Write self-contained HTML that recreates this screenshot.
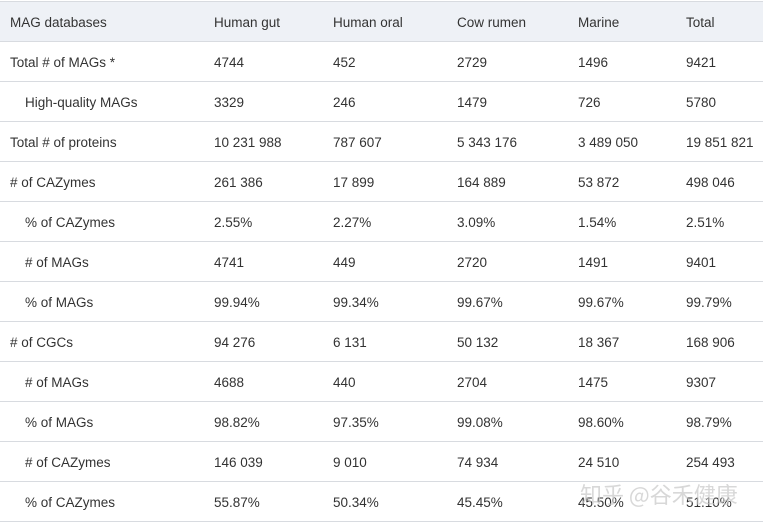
<!DOCTYPE html>
<html><head><meta charset="utf-8"><style>
body{margin:0;width:763px;height:525px;background:#fff;overflow:hidden;font-family:"Liberation Sans","Noto Sans CJK SC",sans-serif;font-size:13.5px;color:#333;position:relative}
.r{position:absolute;left:0;width:763px;height:39px;border-bottom:1px solid #d8dbe0}
.r span{position:absolute;top:13px;white-space:nowrap}
.h{background:#eef1f6;border-top:1px solid #d8dbe0}
.wm{position:absolute;left:580px;top:478px;font-size:22px;color:rgba(200,200,200,.7);font-family:"Noto Sans CJK SC",sans-serif}
</style></head><body>
<div class="r h" style="top:1px"><span style="left:10px">MAG databases</span><span style="left:214px">Human gut</span><span style="left:333px">Human oral</span><span style="left:457px">Cow rumen</span><span style="left:578px">Marine</span><span style="left:686px">Total</span></div>
<div class="r" style="top:42px"><span style="left:10px">Total # of MAGs *</span><span style="left:214px">4744</span><span style="left:333px">452</span><span style="left:457px">2729</span><span style="left:578px">1496</span><span style="left:686px">9421</span></div>
<div class="r" style="top:82px"><span style="left:25px">High-quality MAGs</span><span style="left:214px">3329</span><span style="left:333px">246</span><span style="left:457px">1479</span><span style="left:578px">726</span><span style="left:686px">5780</span></div>
<div class="r" style="top:122px"><span style="left:10px">Total # of proteins</span><span style="left:214px">10 231 988</span><span style="left:333px">787 607</span><span style="left:457px">5 343 176</span><span style="left:578px">3 489 050</span><span style="left:686px">19 851 821</span></div>
<div class="r" style="top:162px"><span style="left:10px"># of CAZymes</span><span style="left:214px">261 386</span><span style="left:333px">17 899</span><span style="left:457px">164 889</span><span style="left:578px">53 872</span><span style="left:686px">498 046</span></div>
<div class="r" style="top:202px"><span style="left:25px">% of CAZymes</span><span style="left:214px">2.55%</span><span style="left:333px">2.27%</span><span style="left:457px">3.09%</span><span style="left:578px">1.54%</span><span style="left:686px">2.51%</span></div>
<div class="r" style="top:242px"><span style="left:25px"># of MAGs</span><span style="left:214px">4741</span><span style="left:333px">449</span><span style="left:457px">2720</span><span style="left:578px">1491</span><span style="left:686px">9401</span></div>
<div class="r" style="top:282px"><span style="left:25px">% of MAGs</span><span style="left:214px">99.94%</span><span style="left:333px">99.34%</span><span style="left:457px">99.67%</span><span style="left:578px">99.67%</span><span style="left:686px">99.79%</span></div>
<div class="r" style="top:322px"><span style="left:10px"># of CGCs</span><span style="left:214px">94 276</span><span style="left:333px">6 131</span><span style="left:457px">50 132</span><span style="left:578px">18 367</span><span style="left:686px">168 906</span></div>
<div class="r" style="top:362px"><span style="left:25px"># of MAGs</span><span style="left:214px">4688</span><span style="left:333px">440</span><span style="left:457px">2704</span><span style="left:578px">1475</span><span style="left:686px">9307</span></div>
<div class="r" style="top:402px"><span style="left:25px">% of MAGs</span><span style="left:214px">98.82%</span><span style="left:333px">97.35%</span><span style="left:457px">99.08%</span><span style="left:578px">98.60%</span><span style="left:686px">98.79%</span></div>
<div class="r" style="top:442px"><span style="left:25px"># of CAZymes</span><span style="left:214px">146 039</span><span style="left:333px">9 010</span><span style="left:457px">74 934</span><span style="left:578px">24 510</span><span style="left:686px">254 493</span></div>
<div class="r" style="top:482px"><span style="left:25px">% of CAZymes</span><span style="left:214px">55.87%</span><span style="left:333px">50.34%</span><span style="left:457px">45.45%</span><span style="left:578px">45.50%</span><span style="left:686px">51.10%</span></div>
<div class="wm">知乎 @谷禾健康</div>
</body></html>
